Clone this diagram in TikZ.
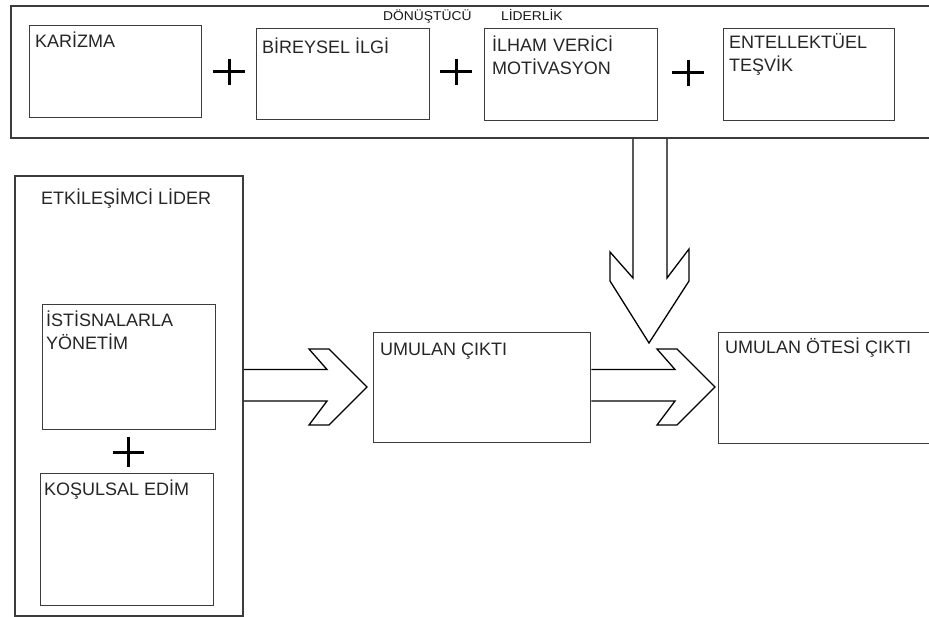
\documentclass[tikz,border=0pt]{standalone}
\usepackage{fontspec}
\setmainfont{Liberation Sans}
\newfontfamily\smallfnt[FakeStretch=1.08]{Liberation Sans}
\usetikzlibrary{calc}
\definecolor{linec}{HTML}{3C3C3C}
\begin{document}
\begin{tikzpicture}[x=1pt,y=-1pt,
  box/.style={draw=linec, line width=1.4pt, anchor=north west, inner sep=0pt},
  outerbox/.style={draw=linec, line width=1.8pt, anchor=north west, inner sep=0pt},
  lbl/.style={anchor=base west, inner sep=0pt, font=\fontsize{18}{23}\selectfont, text=black!85},
  lbltwo/.style={lbl, text width=180pt, align=left},
  tinylbl/.style={anchor=base west, inner sep=0pt, font=\smallfnt\fontsize{12.8}{14}\selectfont, text=black!90},
  plussign/.style={line width=3pt, draw=black},
  blockarrow/.style={draw=black, line width=1.3pt, line join=miter}]
\useasboundingbox (0,0) rectangle (929,617);
\fill[white] (0,0) rectangle (929,617);

% transformational leadership
\node[outerbox, minimum width=935pt, minimum height=132pt] (trans) at (10,5) {};
\node[box, minimum width=172pt, minimum height=92pt] (kar) at (29,25) {};
\node[box, minimum width=173pt, minimum height=91pt] (bir) at (256,28) {};
\node[box, minimum width=173pt, minimum height=92pt] (ilham) at (484,28) {};
\node[box, minimum width=171pt, minimum height=92pt] (ent) at (723,28) {};
\node[lbl] (tkar) at (35,48) {KARİZMA};
\node[lbl] (tbir) at (262,54) {BİREYSEL İLGİ};
\node[lbltwo] (tilham) at (492,52) {İLHAM VERİCİ\\MOTİVASYON};
\node[lbltwo] (tent) at (729,49) {ENTELLEKTÜEL\\TEŞVİK};
\node[tinylbl] (tdon) at (383,20.5) {DÖNÜŞTÜCÜ};
\node[tinylbl] (tlid) at (501,20.5) {LİDERLİK};

\draw[plussign] (213,72) -- (245,72) (229,59) -- (229,85);
\draw[plussign] (440,72) -- (472,72) (456,59) -- (456,85);
\draw[plussign] (672,73) -- (704,73) (688,60) -- (688,86);

% transactional leader
\node[outerbox, minimum width=228pt, minimum height=440pt] (lead) at (14,175) {};
\node[lbl] (tlead) at (41,205) {ETKİLEŞİMCİ LİDER};
\node[box, minimum width=173pt, minimum height=125pt] (ist) at (42,304) {};
\node[lbltwo] (tist) at (46,327) {İSTİSNALARLA\\YÖNETİM};
\node[box, minimum width=173pt, minimum height=132pt] (kos) at (40,473) {};
\node[lbl] (tkos) at (44,495) {KOŞULSAL EDİM};
\draw[plussign] (112.5,452) -- (143.5,452) (128,437) -- (128,467);

% outcomes
\node[box, minimum width=217pt, minimum height=110pt] (umc) at (373,332) {};
\node[lbl] (tumc) at (380,356) {UMULAN ÇIKTI};
\node[box, minimum width=240pt, minimum height=111pt] (umo) at (718,332) {};
\node[lbl] (tumo) at (725,354) {UMULAN ÖTESİ ÇIKTI};

% block arrows
\coordinate (shafttop) at (0,369.5);
\coordinate (shaftbot) at (0,401);
\draw[blockarrow] (lead.east |- shafttop) -- (327,369.5) -- (309,349) -- (329,349)
  -- (367,387) -- (329,425) -- (309,425) -- (327,401) -- (lead.east |- shaftbot);
\draw[blockarrow] (umc.east |- shafttop) -- (675,369.5) -- (657,349) -- (677,349)
  -- (715,387) -- (677,425) -- (657,425) -- (675,401) -- (umc.east |- shaftbot);
\coordinate (dl) at (633,0);
\coordinate (dr) at (667,0);
\draw[blockarrow] (trans.south -| dl) -- (633,278) -- (610,252) -- (610,281)
  -- (649,343) -- (689,281) -- (689,249) -- (667,278) -- (trans.south -| dr);
\end{tikzpicture}
\end{document}
